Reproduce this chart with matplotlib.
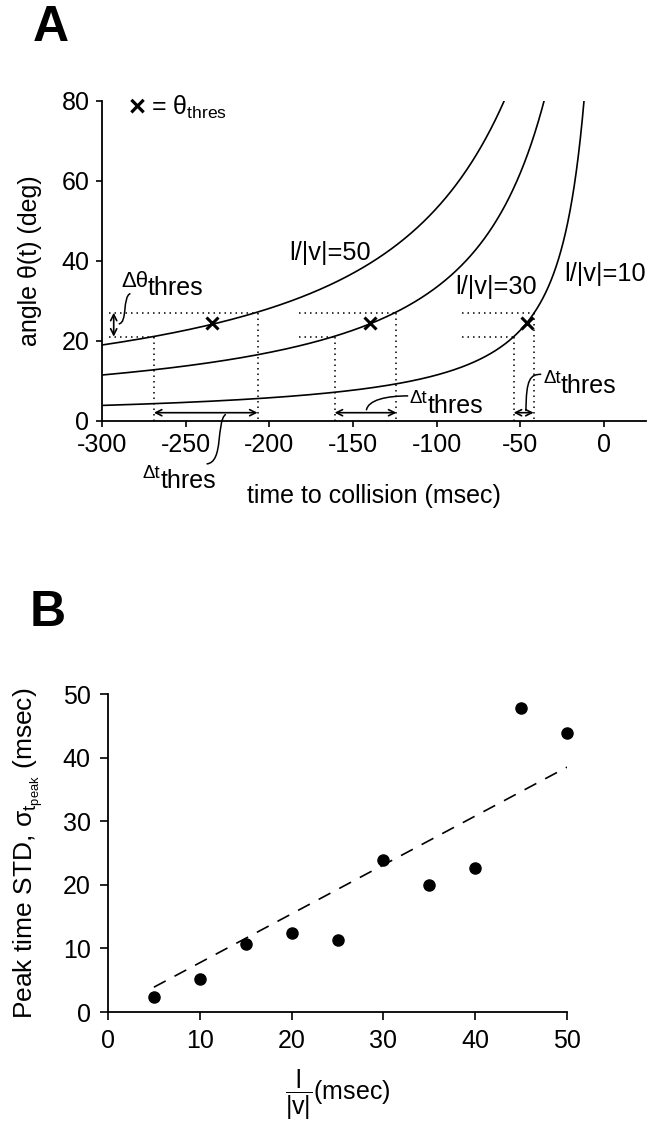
import numpy as np
import matplotlib
matplotlib.use("Agg")
import matplotlib.pyplot as plt
from matplotlib.path import Path
from matplotlib.patches import PathPatch

plt.rcParams['font.family'] = ['Liberation Sans', 'DejaVu Sans']
plt.rcParams['mathtext.fontset'] = 'custom'
plt.rcParams['mathtext.rm'] = 'Liberation Sans'
plt.rcParams['mathtext.it'] = 'Liberation Sans:italic'
plt.rcParams['mathtext.bf'] = 'Liberation Sans:bold'
plt.rcParams['mathtext.sf'] = 'Liberation Sans'

# ---------------- data: panel A ----------------
ratios = [50, 30, 10]                 # l/|v| (msec)
ratio_labels = ['l/|v|=50', 'l/|v|=30', 'l/|v|=10']
theta_thres = 24.3                    # deg
theta_band = [21, 27]                 # theta_thres -/+ delta
t_thres = [-234, -140, -46]           # time where curve crosses theta_thres
t_lo = [-269, -161, -54]              # crossing of lower band
t_hi = [-207, -124, -42]              # crossing of upper band
dot_start = [-296, -182, -85]         # start of horizontal dotted guides
xticks_a = [-300, -250, -200, -150, -100, -50, 0]
yticks_a = [0, 20, 40, 60, 80]

# ---------------- data: panel B ----------------
ratio_b = [5, 10, 15, 20, 25, 30, 35, 40, 45, 50]
sigma_b = [2.4, 5.2, 10.7, 12.5, 11.3, 23.9, 20.0, 22.6, 47.8, 43.9]
fit_x = [5, 50]
fit_y = [3.9, 38.5]
ticks_b = [0, 10, 20, 30, 40, 50]

FS = 18
fig = plt.figure(figsize=(6.5, 11.21), dpi=100)
W, H = 650.0, 1121.0

# ================= Panel A =================
axA = fig.add_axes([102 / W, 1 - 420.7 / H, (645.8 - 102) / W, 320 / H])
t = np.linspace(-300, -1, 3000)
for r in ratios:
    theta = np.degrees(2 * np.arctan(r / np.abs(t)))
    axA.plot(t, theta, color='black', lw=1.2)

axA.plot(t_thres, [theta_thres] * 3, linestyle='none', marker='x',
         ms=9, mew=2.2, color='black', zorder=5)

dot_style = dict(color='black', lw=1.1, linestyle=(0, (1, 2.6)))
for i in range(3):
    axA.plot([dot_start[i], t_hi[i]], [theta_band[1]] * 2, **dot_style)
    axA.plot([dot_start[i], t_lo[i]], [theta_band[0]] * 2, **dot_style)
    axA.plot([t_lo[i], t_lo[i]], [theta_band[0], 0], **dot_style)
    axA.plot([t_hi[i], t_hi[i]], [theta_band[1], 0], **dot_style)
    axA.annotate('', xy=(t_hi[i], 2.0), xytext=(t_lo[i], 2.0),
                 arrowprops=dict(arrowstyle='<->', lw=1.2, color='black',
                                 mutation_scale=11, shrinkA=0, shrinkB=0))

axA.annotate('', xy=(-293, theta_band[1]), xytext=(-293, theta_band[0]),
             arrowprops=dict(arrowstyle='<->', lw=1.2, color='black',
                             mutation_scale=11, shrinkA=0, shrinkB=0))


def connector(ax, pts):
    path = Path(pts, [Path.MOVETO, Path.CURVE4, Path.CURVE4, Path.CURVE4])
    ax.add_patch(PathPatch(path, facecolor='none', edgecolor='black',
                           lw=1.1, clip_on=False))


connector(axA, [(-290, 24.2), (-284.5, 24.5), (-288, 31.0), (-283, 31.8)])
connector(axA, [(-226, 1.6), (-232, 0.0), (-227, -10.5), (-237.5, -10.8)])
connector(axA, [(-142, 2.6), (-141, 5.2), (-130, 6.2), (-117, 6.2)])
connector(axA, [(-46.6, 2.4), (-46.6, 10.5), (-44, 11.6), (-37.5, 11.6)])


def delta_label(ax, x, y, prefix, psize, rise, width):
    ax.annotate(prefix, xy=(x, y), xytext=(0, rise),
                textcoords='offset points', fontsize=psize, ha='left',
                va='baseline', annotation_clip=False)
    ax.annotate('thres', xy=(x, y), xytext=(width, 0),
                textcoords='offset points', fontsize=FS, ha='left',
                va='baseline', annotation_clip=False)


delta_label(axA, -288.3, 31.4, 'Δθ', 16, 6.0, 19.0)
delta_label(axA, -275.5, -16.8, 'Δt', 13.5, 7.0, 12.8)
delta_label(axA, -116, 1.85, 'Δt', 13.5, 7.5, 12.8)
delta_label(axA, -36.3, 6.85, 'Δt', 13.5, 7.5, 12.8)

axA.text(-188, 41.9, ratio_labels[0], fontsize=18.3, ha='left', va='center')
axA.text(-89, 33.5, ratio_labels[1], fontsize=18.3, ha='left', va='center')
axA.text(-23.5, 36.7, ratio_labels[2], fontsize=18.3, ha='left', va='center',
         clip_on=False)

axA.text(-284, 78.3, '×', fontsize=21, fontweight='bold',
         ha='left', va='center')
axA.text(-271, 78.2, r'= $\mathrm{θ}_{\mathrm{thres}}$', fontsize=FS,
         ha='left', va='center')

axA.set_xlim(-300, 25)
axA.set_ylim(0, 80)
axA.set_xticks(xticks_a)
axA.set_yticks(yticks_a)
axA.set_xticklabels([str(v) for v in xticks_a])
for s in ['top', 'right']:
    axA.spines[s].set_visible(False)
for s in ['left', 'bottom']:
    axA.spines[s].set_linewidth(1.3)
axA.tick_params(axis='both', direction='out', length=4, width=1.2,
                labelsize=FS)
axA.tick_params(axis='x', pad=5)
axA.tick_params(axis='y', pad=5)
axA.set_xlabel('time to collision (msec)', fontsize=FS)
axA.xaxis.set_label_coords(0.5, -0.197)
axA.set_ylabel('angle θ(t) (deg)', fontsize=FS)
axA.yaxis.set_label_coords(-0.111, 0.5)

fig.text(51 / W, 1 - 28 / H, 'A', fontsize=36, fontweight='bold',
         ha='center', va='center')

# ================= Panel B =================
axB = fig.add_axes([108 / W, 1 - 1012 / H, (567 - 108) / W, 318 / H])
axB.plot(fit_x, fit_y, color='black', lw=1.2, dashes=(8, 6))
axB.plot(ratio_b, sigma_b, linestyle='none', marker='o', ms=8,
         color='black', clip_on=False, zorder=5)
axB.set_xlim(0, 50)
axB.set_ylim(0, 50)
axB.set_xticks(ticks_b)
axB.set_yticks(ticks_b)
for s in ['top', 'right']:
    axB.spines[s].set_visible(False)
for s in ['left', 'bottom']:
    axB.spines[s].set_linewidth(1.3)
axB.tick_params(axis='both', direction='out', length=5.5, width=1.2,
                labelsize=FS, pad=7)
axB.set_ylabel(r'Peak time STD, $\mathrm{σ}_{\mathrm{t}_{\mathrm{peak}}}$ (msec)',
               fontsize=19)
axB.yaxis.set_label_coords(-0.137, 0.5)
axB.set_xlabel(r'$\dfrac{\mathrm{l}}{|\mathrm{v}|}$(msec)', fontsize=FS)
axB.xaxis.set_label_coords(0.5, -0.175)

fig.text(48 / W, 1 - 613 / H, 'B', fontsize=36, fontweight='bold',
         ha='center', va='center')

fig.savefig('out.png', dpi=100)
